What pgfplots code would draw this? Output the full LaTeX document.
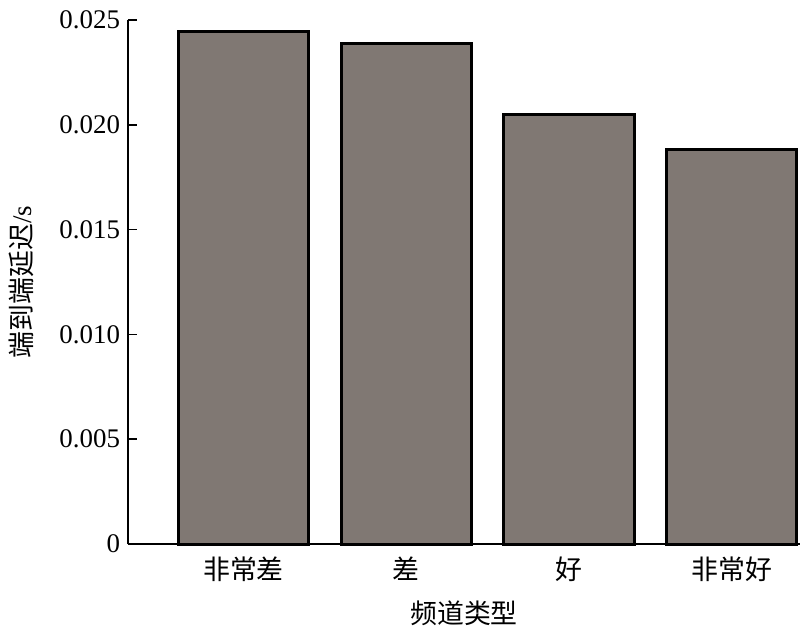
\documentclass[border=0pt]{standalone}
\usepackage{pgfplots}
\pgfplotsset{compat=1.18}
\usepackage{fontspec}
\setmainfont{Liberation Serif}
\newfontfamily\cjk{Noto Sans CJK SC}
\definecolor{barfill}{RGB}{128,120,115}
\begin{document}
\begin{tikzpicture}
\begin{axis}[
  name=ax, at={(0,0)}, anchor=south west,
  scale only axis, width=336bp, height=262bp,
  xmin=-0.71, xmax=3.42, ymin=0, ymax=0.025,
  axis x line*=bottom, axis y line*=left,
  axis line style={line width=0.75bp},
  xtick={0,1,2,3},
  xticklabels={{\cjk 非常差},{\cjk 差},{\cjk 好},{\cjk 非常好}},
  ytick={0,0.005,0.010,0.015,0.020,0.025},
  yticklabels={0,0.005,0.010,0.015,0.020,0.025},
  scaled y ticks=false,
  tick align=inside, major tick length=4.5bp,
  tick style={line width=0.75bp, black},
  ticklabel style={font=\fontsize{13.5}{16}\selectfont},
  /pgf/number format/assume math mode=true,
  xticklabel style={yshift=-3bp},
  yticklabel style={xshift=-0.5bp},
  xlabel={\cjk 频道类型},
  ylabel={\cjk 端到端延迟\rmfamily/s},
  label style={font=\fontsize{13.5}{16}\selectfont},
  xlabel style={at={(axis description cs:0.5,-0.1317)}, anchor=center},
  ylabel style={at={(axis description cs:-0.1592,0.5)}, anchor=center},
  clip=false,
]
\addplot[ybar, bar width=0.8, fill=barfill, draw=black, line width=1.5bp] coordinates {
  (0,0.02443) (1,0.0239) (2,0.02047) (3,0.0188)
};
\end{axis}
\pgfresetboundingbox
\path[use as bounding box] (ax.south west) ++(-64bp,-45bp) rectangle ++(400bp,317bp);
\end{tikzpicture}
\end{document}
